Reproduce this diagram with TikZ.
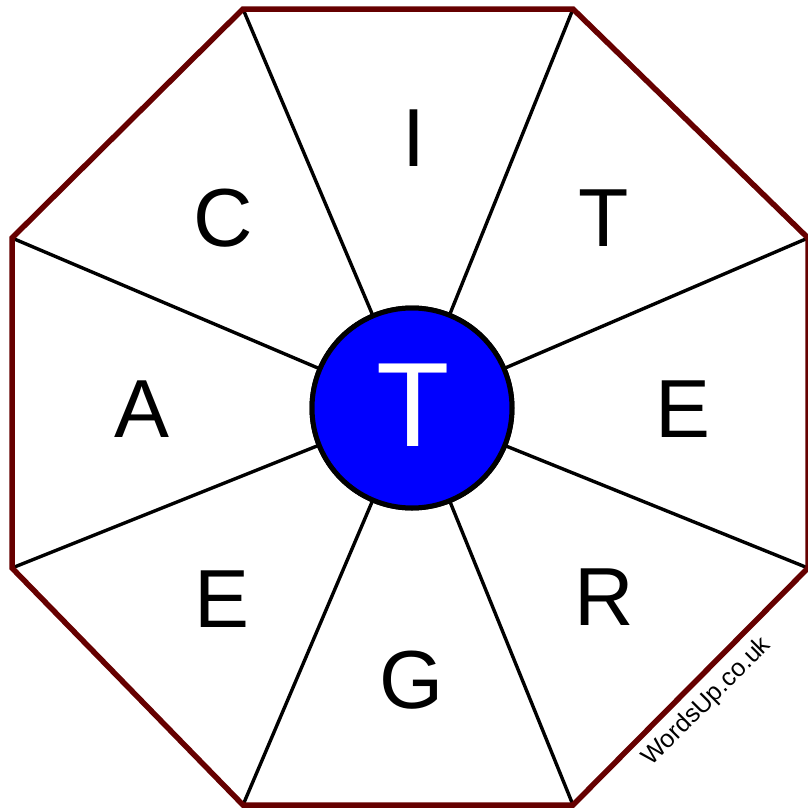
\documentclass[tikz,border=0pt]{standalone}
\usepackage{fontspec}
\setmainfont{Liberation Sans}
\definecolor{octred}{RGB}{102,0,0}
\definecolor{hubblue}{RGB}{0,0,255}
\tikzset{
  letter/.style={anchor=base, inner sep=0pt, font=\fontsize{82.4}{90}\selectfont},
  spoke/.style={draw=black, line width=3.4pt},
  octo/.style={draw=octred, line width=5.5pt, line join=miter},
  hub/.style={circle, draw=black, line width=5pt, fill=hubblue, minimum size=200pt, inner sep=0pt}
}
\begin{document}
\begin{tikzpicture}[x=1pt,y=-1pt]
\useasboundingbox (0,0) rectangle (808,809);
\coordinate (v1) at (243,9);
\coordinate (v2) at (573,9);
\coordinate (v3) at (808,238);
\coordinate (v4) at (808,568);
\coordinate (v5) at (573,805);
\coordinate (v6) at (243,805);
\coordinate (v7) at (12,568);
\coordinate (v8) at (12,238);
\node[hub] (hub) at (412,408) {};
\foreach \v in {v1,v2,v3,v4,v5,v6,v7,v8} \draw[spoke] (hub.center) -- (\v);
\draw[octo] (v1) -- (v2) -- (v3) -- (v4) -- (v5) -- (v6) -- (v7) -- (v8) -- cycle;
\node[hub] (hubtop) at (412,408) {};
\node[anchor=base, inner sep=0pt, text=white, font=\fontsize{120}{130}\selectfont] (centerT) at (413.5,446) {T};
\node[letter] (lI) at (414,166) {I};
\node[letter] (lT) at (604,246) {T};
\node[letter] (lE1) at (683,437) {E};
\node[letter] (lR) at (604.5,625) {R};
\node[letter] (lG) at (412,708) {G};
\node[letter] (lE2) at (222,627) {E};
\node[letter] (lA) at (142,437) {A};
\node[letter] (lC) at (223,246) {C};
\node[rotate=45, inner sep=0pt, font=\fontsize{25}{28}\selectfont] (wm) at (707,702) {WordsUp.co.uk};
\end{tikzpicture}
\end{document}
